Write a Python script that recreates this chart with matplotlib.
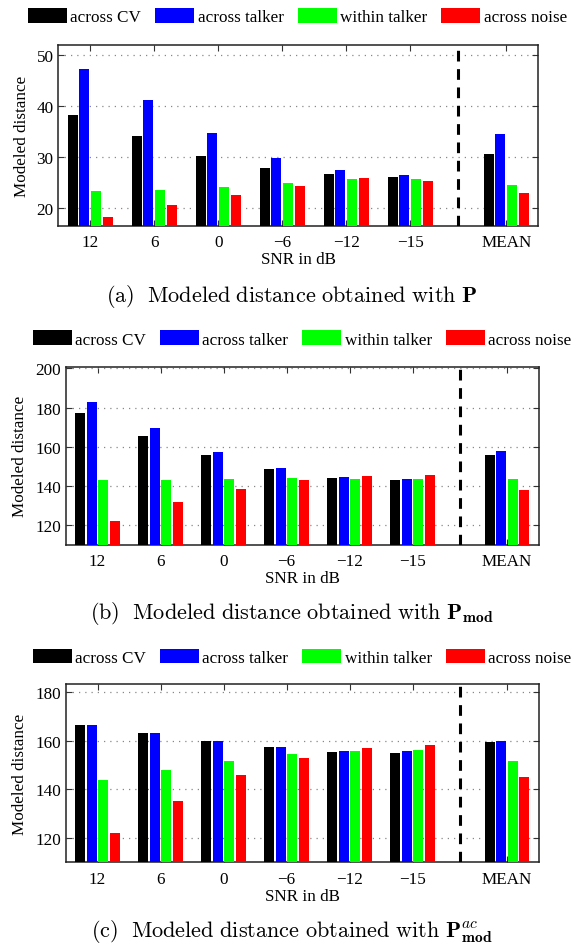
import matplotlib
matplotlib.use("Agg")
import matplotlib.pyplot as plt
import numpy as np
from matplotlib.patches import Patch

plt.rcParams['font.family'] = ['Liberation Serif', 'DejaVu Serif']
plt.rcParams['mathtext.fontset'] = 'cm'

categories = ['12', '6', '0', '\u22126', '\u221212', '\u221215', 'MEAN']
series_names = ['across CV', 'across talker', 'within talker', 'across noise']
colors = ['#000000', '#0000ff', '#00ff00', '#ff0000']

# Panel (a): P
a_cv      = [38.3, 34.2, 30.2, 27.9, 26.7, 26.1, 30.6]
a_talker  = [47.3, 41.2, 34.7, 29.85, 27.5, 26.5, 34.6]
a_within  = [23.4, 23.6, 24.2, 24.95, 25.7, 25.7, 24.6]
a_noise   = [18.3, 20.65, 22.6, 24.4, 25.9, 25.3, 22.9]

# Panel (b): P_mod
b_cv      = [177.3, 165.5, 155.7, 148.6, 144.1, 143.1, 155.7]
b_talker  = [182.9, 169.6, 157.3, 149.1, 144.6, 143.6, 157.8]
b_within  = [143.1, 143.1, 143.6, 144.1, 143.6, 143.6, 143.5]
b_noise   = [122.2, 131.9, 138.5, 143.1, 145.1, 145.6, 137.9]

# Panel (c): P_mod^ac
c_cv      = [166.5, 163.3, 160.0, 157.5, 155.5, 155.1, 159.6]
c_talker  = [166.5, 163.3, 160.0, 157.5, 155.9, 155.9, 160.0]
c_within  = [144.0, 148.1, 151.8, 154.7, 155.9, 156.3, 151.8]
c_noise   = [122.3, 135.4, 145.7, 153.0, 157.1, 158.4, 145.2]

a_ticks = [20, 30, 40, 50]
b_ticks = [120, 140, 160, 180, 200]
c_ticks = [120, 140, 160, 180]

captions = [r'$\mathrm{(a)\ \ Modeled\ distance\ obtained\ with\ }\mathbf{P}$',
            r'$\mathrm{(b)\ \ Modeled\ distance\ obtained\ with\ }\mathbf{P}_{\mathbf{mod}}$',
            r'$\mathrm{(c)\ \ Modeled\ distance\ obtained\ with\ }\mathbf{P}^{ac}_{\mathbf{mod}}$']

W, H = 575, 945
fig = plt.figure(figsize=(W / 100, H / 100), dpi=100)

def frac_rect(left, right, top, bottom):
    return [left / W, 1 - bottom / H, (right - left) / W, (bottom - top) / H]

panels = [
    dict(rect=frac_rect(58.3, 538.3, 45.7, 226.7), data=[a_cv, a_talker, a_within, a_noise],
         ylim=(16.6, 52.0), ticks=a_ticks, ylab_x=21.7, leg_y=17.5, leg_x=297.5,
         cap_y=302),
    dict(rect=frac_rect(66.0, 538.5, 367.7, 545.7), data=[b_cv, b_talker, b_within, b_noise],
         ylim=(110.2, 200.8), ticks=b_ticks, ylab_x=20.4, leg_y=340, leg_x=302,
         cap_y=619),
    dict(rect=frac_rect(66.0, 538.5, 685.3, 863.3), data=[c_cv, c_talker, c_within, c_noise],
         ylim=(110.1, 183.1), ticks=c_ticks, ylab_x=20.4, leg_y=658.3, leg_x=302,
         cap_y=937),
]

xpos = np.array([1, 2, 3, 4, 5, 6, 7.5])
pitch = 0.183
bw = 0.156
offsets = (np.arange(4) - 1.5) * pitch
fs = 12.3

for i, p in enumerate(panels):
    ax = fig.add_axes(p['rect'])
    for s in range(4):
        ax.bar(xpos + offsets[s], p['data'][s], width=bw, color=colors[s], zorder=3,
               linewidth=0)
    ax.set_xlim(0.5, 8.0)
    ax.set_ylim(*p['ylim'])
    ax.set_yticks(p['ticks'])
    ax.set_xticks(xpos)
    ax.set_xticklabels(categories, fontsize=fs)
    ax.tick_params(axis='y', labelsize=fs, pad=3.5)
    ax.tick_params(axis='x', pad=6)
    ax.tick_params(direction='in', length=4, width=0.8, top=True, right=True, color='#333333')
    ax.yaxis.grid(True, linestyle=(0, (1, 4)), color='#888888', linewidth=0.9, zorder=0)
    ax.set_axisbelow(True)
    for sp in ax.spines.values():
        sp.set_linewidth(1.1)
        sp.set_color('#222222')
    ax.axvline(6.75, color='black', linestyle=(0, (3.5, 2.5)), linewidth=2.2, zorder=4)
    ax.set_xlabel('SNR in dB', fontsize=fs)
    ax.set_ylabel('Modeled distance', fontsize=fs)
    l, b, w, h = p['rect']
    axw_px = w * W
    ax.yaxis.set_label_coords((p['ylab_x'] - l * W) / axw_px, 0.5)
    ax.yaxis.label.set_va('center')
    ax.xaxis.set_label_coords(0.5, -33.5 / (h * H))
    ax.xaxis.label.set_va('center')

    handles = [Patch(facecolor=c, edgecolor='none') for c in colors]
    fig.legend(handles, series_names, loc='center', ncol=4,
               bbox_to_anchor=(p['leg_x'] / W, 1 - p['leg_y'] / H),
               frameon=False, fontsize=fs, handlelength=2.28, handleheight=0.94,
               handletextpad=0.2, columnspacing=0.82, borderaxespad=0, borderpad=0)

    fig.text(0.508, 1 - p['cap_y'] / H, captions[i], fontsize=16, ha='center', va='baseline')

fig.savefig('out.png', dpi=100)
